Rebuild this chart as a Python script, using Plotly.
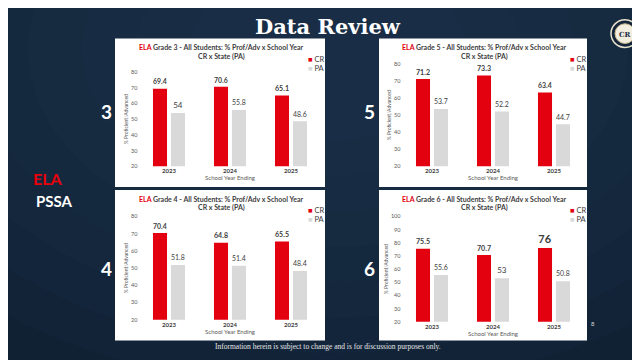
import plotly.graph_objects as go

years = ["2023", "2024", "2025"]
series_names = ["CR", "PA"]

g3_cr = [69.4, 70.6, 65.1]
g3_pa = [54, 55.8, 48.6]
g5_cr = [71.2, 73.3, 63.4]
g5_pa = [53.7, 52.2, 44.7]
g4_cr = [70.4, 64.8, 65.5]
g4_pa = [51.8, 51.4, 48.4]
g6_cr = [75.5, 70.7, 76]
g6_pa = [55.6, 53, 50.8]

y_ticks = [20, 30, 40, 50, 60, 70, 80]
y_ticks_g6 = [20, 30, 40, 50, 60, 70, 80, 90, 100]

W, H = 640, 360
RED = "#e3000f"
GRAY = "#d9d9d9"
TXT = "#404040"

def px(x):
    return x / W

def py(y):
    return 1 - y / H

# grade, cr, pa, panel box px, plot box px (x0, ytop, x1, ybottom), y range, ticks, number position
panels = [
    ("3", g3_cr, g3_pa, (107, 28, 317, 179), (130.5, 62, 313.5, 158), [20, 80], y_ticks, (98, 102)),
    ("5", g5_cr, g5_pa, (371, 28, 579, 179), (393.5, 54, 576.5, 158), [20, 80], y_ticks, (361, 102)),
    ("4", g4_cr, g4_pa, (107, 182, 317, 335), (130.5, 209, 313.5, 314), [20, 80], y_ticks, (98, 262)),
    ("6", g6_cr, g6_pa, (371, 182, 579, 335), (393.5, 209, 576.5, 316), [20, 100], y_ticks_g6, (361, 262)),
]

fig = go.Figure()
shapes = []
annotations = []

# background radial-ish gradient
for i in range(10):
    r = 520 - i * 45
    shapes.append(dict(type="circle", xref="paper", yref="paper",
                       x0=px(320 - r * 1.2), x1=px(320 + r * 1.2),
                       y0=py(40 + r * 0.8), y1=py(40 - r * 0.8),
                       fillcolor="#2b4a68", opacity=0.07, line=dict(width=0), layer="below"))

layout_axes = {}
for idx, (grade, cr, pa, box, plot, yr, yt, numpos) in enumerate(panels):
    n = "" if idx == 0 else str(idx + 1)
    xa, ya = "x" + n, "y" + n
    shapes.append(dict(type="rect", xref="paper", yref="paper",
                       x0=px(box[0]), x1=px(box[2]), y0=py(box[3]), y1=py(box[1]),
                       fillcolor="white", line=dict(width=0), layer="below"))
    fig.add_trace(go.Bar(x=years, y=cr, name=series_names[0], xaxis=xa, yaxis=ya,
                         marker=dict(color=RED, line=dict(width=0)),
                         text=[f"{v:g}" for v in cr], textposition="outside",
                         textfont=dict(size=11, color=TXT, family="Lato", weight="bold"),
                         cliponaxis=False, showlegend=False, hoverinfo="skip"))
    fig.add_trace(go.Bar(x=years, y=pa, name=series_names[1], xaxis=xa, yaxis=ya,
                         marker=dict(color=GRAY, line=dict(width=0)),
                         text=[f"{v:g}" for v in pa], textposition="outside",
                         textfont=dict(size=8, color=TXT, family="Lato"),
                         cliponaxis=False, showlegend=False, hoverinfo="skip"))
    layout_axes["xaxis" + n] = dict(domain=[px(plot[0]), px(plot[2])], anchor=ya,
                                    type="category", range=[-0.5, 2.5],
                                    showgrid=False, showline=False, zeroline=False,
                                    ticks="", tickfont=dict(size=6, color=TXT, family="Lato", weight="bold"),
                                    title=dict(text="School Year Ending",
                                               font=dict(size=6, color="#595959", family="Lato"),
                                               standoff=2))
    layout_axes["yaxis" + n] = dict(domain=[py(plot[3]), py(plot[1])], anchor=xa,
                                    range=yr, tickvals=yt,
                                    showgrid=False, showline=False, zeroline=False, ticks="",
                                    tickfont=dict(size=5.5, color="#595959", family="Lato"),
                                    title=dict(text="% Proficient/Advanced",
                                               font=dict(size=5, color="#595959", family="Lato"),
                                               standoff=2))
    cx = (box[0] + box[2]) / 2
    annotations.append(dict(xref="paper", yref="paper", x=px(cx + 1), y=py(box[1] + 9),
                            text=f"<span style='color:{RED}'>ELA</span> Grade {grade} - All Students: % Prof/Adv x School Year",
                            showarrow=False, font=dict(size=7, color=TXT, family="Lato", weight="bold"),
                            xanchor="center", yanchor="middle"))
    annotations.append(dict(xref="paper", yref="paper", x=px(cx + 1), y=py(box[1] + 18),
                            text="CR x State (PA)",
                            showarrow=False, font=dict(size=7, color=TXT, family="Lato", weight="bold"),
                            xanchor="center", yanchor="middle"))
    for k, (nm, col) in enumerate(zip(series_names, [RED, GRAY])):
        annotations.append(dict(xref="paper", yref="paper", x=px(box[2] - 19), y=py(box[1] + 21 + k * 9),
                                text=f"<span style='color:{col}'>■</span> {nm}",
                                showarrow=False, font=dict(size=7.5, color=TXT, family="Lato"),
                                xanchor="left", yanchor="middle"))
    annotations.append(dict(xref="paper", yref="paper", x=px(numpos[0]), y=py(numpos[1]),
                            text=f"<b>{grade}</b>", showarrow=False,
                            font=dict(size=19, color="white", family="Lato"),
                            xanchor="center", yanchor="middle"))

annotations += [
    dict(xref="paper", yref="paper", x=px(320), y=py(16), text="<b>Data Review</b>",
         showarrow=False, font=dict(size=21, color="white", family="DejaVu Serif"),
         xanchor="center", yanchor="middle"),
    dict(xref="paper", yref="paper", x=px(40), y=py(170), text="<b>ELA</b>",
         showarrow=False, font=dict(size=16, color="#e8000b", family="Lato"),
         xanchor="center", yanchor="middle"),
    dict(xref="paper", yref="paper", x=px(46), y=py(193), text="<b>PSSA</b>",
         showarrow=False, font=dict(size=15, color="white", family="Lato"),
         xanchor="center", yanchor="middle"),
    dict(xref="paper", yref="paper", x=px(320), y=py(341),
         text="Information herein is subject to change and is for discussion purposes only.",
         showarrow=False, font=dict(size=7.5, color="#e6e6e6", family="Liberation Serif"),
         xanchor="center", yanchor="middle"),
    dict(xref="paper", yref="paper", x=px(585), y=py(318), text="8",
         showarrow=False, font=dict(size=6, color="#d9d9d9", family="Lato"),
         xanchor="center", yanchor="middle"),
    dict(xref="paper", yref="paper", x=px(617), y=py(24), text="<b>CR</b>",
         showarrow=False, font=dict(size=7, color="#1b2c44", family="DejaVu Serif"),
         xanchor="center", yanchor="middle"),
]

shapes.append(dict(type="circle", xref="paper", yref="paper",
                   x0=px(603), x1=px(631), y0=py(37), y1=py(9),
                   fillcolor="#14243a", line=dict(color="#e8e2cc", width=1.5)))
shapes.append(dict(type="circle", xref="paper", yref="paper",
                   x0=px(607), x1=px(627), y0=py(33), y1=py(13),
                   fillcolor="#f2eedf", line=dict(color="#c7b98e", width=1)))

fig.update_layout(
    width=W, height=H, margin=dict(l=0, r=0, t=0, b=0),
    paper_bgcolor="#0e1d2e", plot_bgcolor="rgba(0,0,0,0)",
    barmode="group", bargap=0.41, bargroupgap=0.22,
    shapes=shapes, annotations=annotations, showlegend=False,
    **layout_axes,
)

fig.write_html("out.html")
